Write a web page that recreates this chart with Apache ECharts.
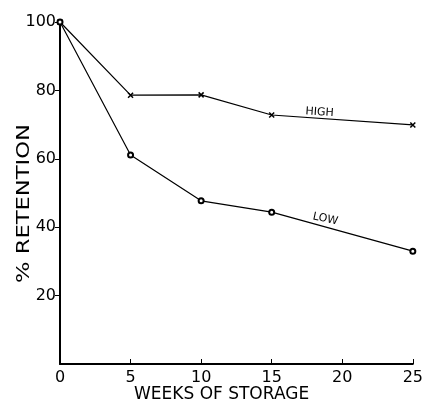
<!DOCTYPE html>
<html><head><meta charset="utf-8">
<script src="https://cdn.jsdelivr.net/npm/echarts@6/dist/echarts.min.js"></script>
<style>html,body{margin:0;padding:0;background:#fff}#c{width:426px;height:402px}</style>
</head><body><div id="c"></div>
<script>
var weeks = [0, 5, 10, 15, 25];
var highValues = [100, 78.6, 78.7, 72.8, 69.9];
var lowValues = [100, 61.1, 47.7, 44.4, 33.0];
var xTicks = [0, 5, 10, 15, 20, 25];
var yTicks = [20, 40, 60, 80, 100];
var seriesNames = ['HIGH', 'LOW'];
var labelPos = {HIGH: [18.4, 73.6], LOW: [18.8, 42.4]};

var font = 'DejaVu Sans';
var chart = echarts.init(document.getElementById('c'));
function pairs(xs, ys){ return xs.map(function(x,i){return [x, ys[i]];}); }
chart.setOption({
  animation: false,
  grid: {left: 60, right: 12, top: 22, bottom: 38},
  xAxis: {
    type: 'value', min: 0, max: 25, interval: 5,
    axisLine: {lineStyle: {color: '#000', width: 2}},
    axisTick: {inside: true, length: 5, customValues: xTicks.slice(1), lineStyle: {color: '#000', width: 1}},
    splitLine: {show: false},
    axisLabel: {color: '#000', fontFamily: font, fontSize: 16, margin: 6, customValues: xTicks}
  },
  yAxis: {
    type: 'value', min: 0, max: 100, interval: 20,
    axisLine: {show: true, lineStyle: {color: '#000', width: 2}},
    axisTick: {show: true, length: 5, customValues: yTicks, lineStyle: {color: '#000', width: 1}},
    splitLine: {show: false},
    axisLabel: {color: '#000', fontFamily: font, fontSize: 16, margin: 4, customValues: yTicks}
  },
  graphic: [
    {type: 'text', left: 134, top: 386, style: {text: 'WEEKS OF STORAGE', fontFamily: font, fontSize: 17, fill: '#000'}},
    {type: 'text', x: 16, y: 283, rotation: Math.PI/2, scaleX: 1.33, style: {text: '% RETENTION', fontFamily: font, fontSize: 17, fill: '#000'}}
  ],
  series: [
    {name: seriesNames[0], type: 'line', data: pairs(weeks, highValues),
     symbol: 'path://M-1,-1L1,1M1,-1L-1,1', symbolSize: 5, showAllSymbol: true,
     lineStyle: {color: '#000', width: 1.2},
     itemStyle: {color: '#000', borderColor: '#000', borderWidth: 1.5},
     markPoint: {symbol: 'circle', symbolSize: 0, data: [{coord: labelPos.HIGH, value: 'HIGH'}],
       label: {show: true, formatter: 'HIGH', color: '#000', fontFamily: font, fontSize: 11, rotate: -4}}},
    {name: seriesNames[1], type: 'line', data: pairs(weeks, lowValues),
     symbol: 'emptyCircle', symbolSize: 5, showAllSymbol: true,
     lineStyle: {color: '#000', width: 1.2},
     itemStyle: {color: '#000', borderColor: '#000', borderWidth: 1},
     markPoint: {symbol: 'circle', symbolSize: 0, data: [{coord: labelPos.LOW, value: 'LOW'}],
       label: {show: true, formatter: 'LOW', color: '#000', fontFamily: font, fontSize: 11, rotate: -12}}}
  ]
});
</script></body></html>
